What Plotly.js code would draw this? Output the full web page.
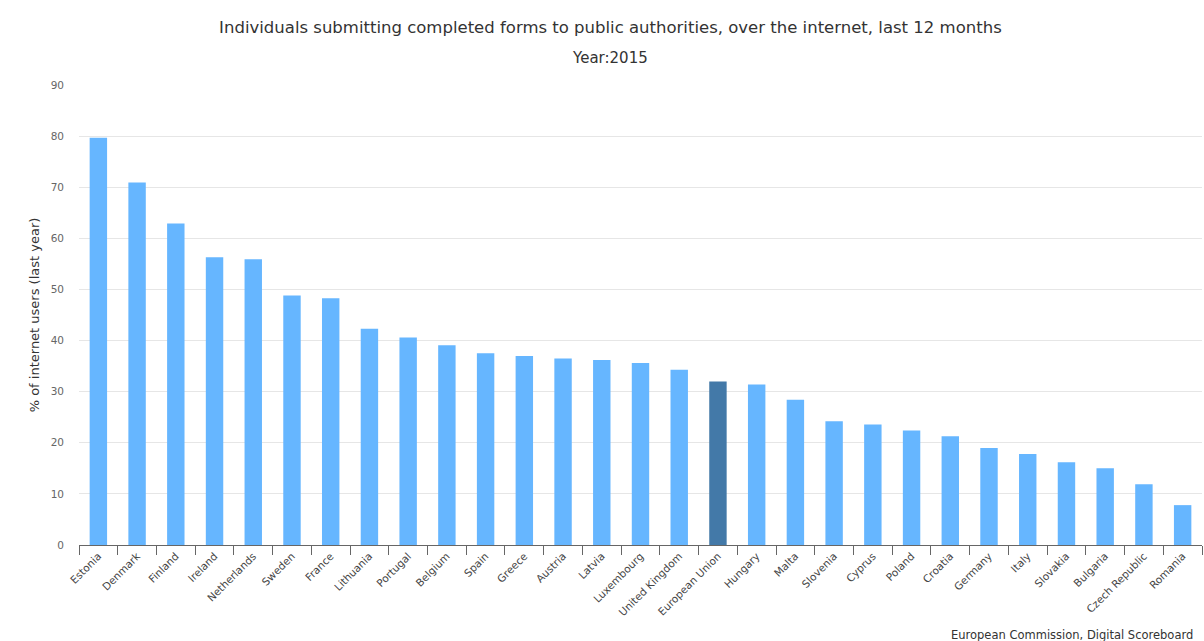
<!DOCTYPE html>
<html>
<head>
<meta charset="utf-8">
<script src="https://cdn.plot.ly/plotly-3.0.1.min.js"></script>
<style>html,body{margin:0;padding:0;background:#fff;}#chart{width:1204px;height:641px;}</style>
</head>
<body>
<div id="chart"></div>
<script>
const countries = ["Estonia","Denmark","Finland","Ireland","Netherlands","Sweden","France","Lithuania","Portugal","Belgium","Spain","Greece","Austria","Latvia","Luxembourg","United Kingdom","European Union","Hungary","Malta","Slovenia","Cyprus","Poland","Croatia","Germany","Italy","Slovakia","Bulgaria","Czech Republic","Romania"];
const values = [79.7,70.9,62.9,56.3,55.9,48.8,48.3,42.3,40.6,39.1,37.5,37.0,36.5,36.2,35.6,34.3,32.0,31.4,28.4,24.2,23.6,22.4,21.3,19.0,17.8,16.2,15.0,11.9,7.8];
const highlight = "European Union";
const titleText = "Individuals submitting completed forms to public authorities, over the internet, last 12 months";
const subtitleText = "Year:2015";
const yTitle = "% of internet users (last year)";
const credit = "European Commission, Digital Scoreboard";

const colors = countries.map(c => c === highlight ? "#4379a8" : "#66b6ff");
const FONT = "DejaVu Sans, sans-serif";

const data = [{
  type: "bar",
  x: countries,
  y: values,
  marker: {color: colors, line: {width: 0}},
  width: 0.45,
  hoverinfo: "x+y"
}];

const layout = {
  width: 1204, height: 641,
  margin: {l: 79, r: 2, t: 85, b: 96},
  paper_bgcolor: "#fff", plot_bgcolor: "#fff",
  font: {family: FONT, color: "#333"},
  showlegend: false,
  title: {text: titleText, font: {size: 16.5, color: "#333", family: FONT}, x: 0.507, xanchor: "center", y: 0.958, yanchor: "middle"},
  xaxis: {
    type: "category",
    tickangle: -45,
    tickfont: {size: 10.5, color: "#444", family: FONT},
    ticks: "outside", tickson: "boundaries", ticklen: 9, tickcolor: "#666", tickwidth: 1,
    showline: true, linecolor: "#666", linewidth: 1,
    showgrid: false, zeroline: false,
    automargin: false
  },
  yaxis: {
    range: [0, 90],
    dtick: 10, tick0: 0,
    tickfont: {size: 10.5, color: "#666", family: FONT},
    showgrid: true, gridcolor: "#e6e6e6", gridwidth: 1,
    zeroline: false, showline: false, ticks: "",
    ticklabelstandoff: 14,
    title: {text: yTitle, font: {size: 13, color: "#333", family: FONT}, standoff: 8},
    automargin: false
  },
  annotations: [
    {text: subtitleText, xref: "paper", yref: "paper", x: (610-79)/1123, y: 1.0 + (85-58)/460, xanchor: "center", yanchor: "middle", showarrow: false, font: {size: 15, color: "#333", family: FONT}},
    {text: credit, xref: "paper", yref: "paper", x: (949-79)/1123, y: -(635-545)/460, xanchor: "left", yanchor: "middle", showarrow: false, font: {size: 11.5, color: "#333", family: FONT}}
  ]
};

Plotly.newPlot("chart", data, layout, {displayModeBar: false, staticPlot: true});
</script>
</body>
</html>
